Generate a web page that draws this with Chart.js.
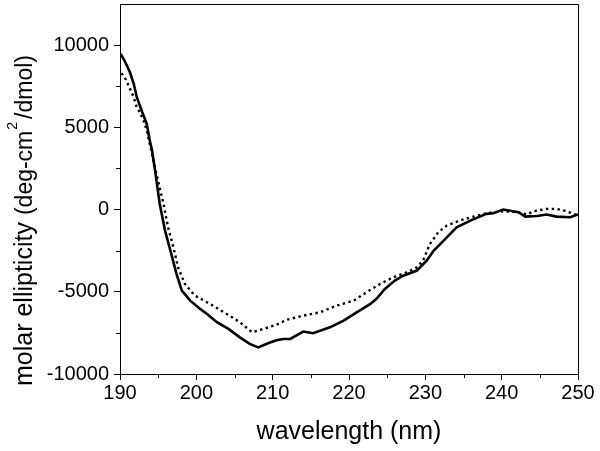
<!DOCTYPE html>
<html>
<head>
<meta charset="utf-8">
<script src="https://cdn.jsdelivr.net/npm/chart.js@4/dist/chart.umd.min.js"></script>
<style>
  html, body { margin: 0; padding: 0; background: #fff; }
  #wrap { width: 600px; height: 451px; }
</style>
</head>
<body>
<div id="wrap"><canvas id="cd" width="600" height="451"></canvas></div>
<script>
'use strict';

// ─── Data ─────────────────────────────────────────────────────────────────────

const solidWl = [
  190.1, 190.7, 191.3, 191.8, 192.2, 193.0, 193.5, 193.9, 194.2, 194.6,
  195.2, 195.9, 196.6, 197.4, 198.1, 199.2, 200.5, 201.4, 202.7, 204.2,
  205.7, 207.0, 208.1, 209.4, 210.5, 211.4, 212.3, 214.0, 215.3, 217.5,
  219.3, 221.0, 222.8, 223.6, 224.7, 226.0, 227.1, 228.9, 230.2, 231.1,
  232.4, 234.1, 235.9, 238.0, 238.9, 240.2, 242.2, 243.1, 244.6, 245.9,
  247.2, 249.0, 250.0,
];
const solidVal = [
  9470, 8960, 8350, 7650, 6830, 5820, 5210, 4200, 3590, 2370,
  350, -1280, -2490, -3910, -4930, -5540, -6040, -6350, -6850, -7260,
  -7770, -8170, -8380, -8130, -7950, -7870, -7870, -7420, -7520, -7160,
  -6750, -6250, -5740, -5430, -4830, -4320, -4020, -3710, -3100, -2490,
  -1890, -1080, -670, -260, -220, 0, -160, -430, -390, -300,
  -430, -470, -300,
];

const dottedWl = [
  190.2, 190.8, 191.4, 191.8, 192.2, 192.6, 193.1, 193.5, 194.0, 194.6,
  195.7, 196.3, 197.0, 197.6, 198.5, 199.8, 201.8, 204.0, 205.7, 207.3,
  208.8, 210.5, 211.8, 214.0, 216.2, 218.4, 220.6, 222.3, 224.1, 225.8,
  227.6, 228.9, 229.7, 230.6, 231.7, 232.8, 234.5, 236.3, 238.0, 240.2,
  242.0, 243.3, 244.2, 245.9, 247.2, 248.5, 249.6, 250.0,
];
const dottedVal = [
  8300, 7890, 7240, 6830, 6220, 5920, 5410, 4810, 3800, 2500,
  350, -1080, -2290, -3510, -4520, -5230, -5740, -6350, -6850, -7460,
  -7260, -7000, -6710, -6450, -6250, -5840, -5540, -5030, -4520, -4120,
  -3810, -3510, -3100, -2090, -1380, -970, -670, -430, -220, -100,
  -160, -300, -100, 40, 40, -100, -300, -350,
];

const xTicks      = [190, 200, 210, 220, 230, 240, 250];
const xMinorTicks = [195, 205, 215, 225, 235, 245];
const yTicks      = [-10000, -5000, 0, 5000, 10000];
const yMinorTicks = [-7500, -2500, 2500, 7500];

const X_TITLE      = 'wavelength (nm)';
const Y_TITLE_MAIN = 'molar ellipticity';
const Y_TITLE_UNIT = ['(deg-cm', '2', '/dmol)'];

const FONT = "'Liberation Sans', Arial, sans-serif";

// ─── Plugins ──────────────────────────────────────────────────────────────────

// closes the box (top + right edges) and adds short minor ticks
const framePlugin = {
  id: 'frame',
  afterDraw(chart) {
    const { ctx, chartArea: a, scales } = chart;
    ctx.save();
    ctx.strokeStyle = '#000';
    ctx.lineWidth = 1;
    ctx.beginPath();
    ctx.moveTo(a.left, a.top + 0.5);
    ctx.lineTo(a.right + 0.5, a.top + 0.5);
    ctx.lineTo(a.right + 0.5, a.bottom);
    ctx.stroke();

    ctx.beginPath();
    xMinorTicks.forEach(v => {
      const px = Math.round(scales.x.getPixelForValue(v)) + 0.5;
      ctx.moveTo(px, a.bottom);
      ctx.lineTo(px, a.bottom + 4);
    });
    yMinorTicks.forEach(v => {
      const py = Math.round(scales.y.getPixelForValue(v)) + 0.5;
      ctx.moveTo(a.left, py);
      ctx.lineTo(a.left - 4, py);
    });
    ctx.stroke();
    ctx.restore();
  },
};

// y title: big words, smaller unit with a superscript
const yTitlePlugin = {
  id: 'yTitle',
  afterDraw(chart) {
    const ctx = chart.ctx;
    ctx.save();
    ctx.translate(32, 386);
    ctx.rotate(-Math.PI / 2);
    ctx.fillStyle = '#000';
    ctx.textBaseline = 'alphabetic';
    ctx.textAlign = 'left';

    ctx.font = `25px ${FONT}`;
    ctx.fillText(Y_TITLE_MAIN, 0, 0);
    let x = ctx.measureText(Y_TITLE_MAIN).width + 7;

    ctx.font = `23px ${FONT}`;
    ctx.fillText(Y_TITLE_UNIT[0], x, 0);
    x += ctx.measureText(Y_TITLE_UNIT[0]).width + 1;

    ctx.font = `14px ${FONT}`;
    ctx.fillText(Y_TITLE_UNIT[1], x, -15);
    x += ctx.measureText(Y_TITLE_UNIT[1]).width + 3;

    ctx.font = `23px ${FONT}`;
    ctx.fillText(Y_TITLE_UNIT[2], x, 0);
    ctx.restore();
  },
};

// ─── Chart ────────────────────────────────────────────────────────────────────

const toPts = (xs, ys) => xs.map((x, i) => ({ x, y: ys[i] }));

new Chart(document.getElementById('cd').getContext('2d'), {
  type: 'line',
  data: {
    datasets: [
      {
        label: 'solid',
        data: toPts(solidWl, solidVal),
        borderColor: '#000',
        borderWidth: 2.6,
        pointRadius: 0,
        tension: 0,
        fill: false,
      },
      {
        label: 'dotted',
        data: toPts(dottedWl, dottedVal),
        borderColor: '#000',
        borderWidth: 2.4,
        borderDash: [2.4, 3.4],
        pointRadius: 0,
        tension: 0,
        fill: false,
      },
    ],
  },
  options: {
    responsive: false,
    animation: false,
    parsing: false,
    layout: { padding: { top: 4, right: 22, left: 0, bottom: 0 } },
    plugins: {
      legend: { display: false },
      tooltip: { enabled: false },
    },
    scales: {
      x: {
        type: 'linear',
        min: 190,
        max: 250,
        afterBuildTicks: s => { s.ticks = xTicks.map(v => ({ value: v })); },
        afterFit: s => { s.height = 77; s.paddingLeft = 0; s.paddingRight = 0; },
        border: { display: true, color: '#000', width: 1 },
        grid: { drawOnChartArea: false, drawTicks: true, tickLength: 6, color: '#000' },
        ticks: {
          color: '#000',
          font: { family: FONT, size: 20 },
          padding: 1,
          maxRotation: 0,
          callback: v => String(v),
        },
        title: {
          display: true,
          text: X_TITLE,
          color: '#000',
          font: { family: FONT, size: 25 },
          padding: { top: 0, bottom: 4 },
        },
      },
      y: {
        type: 'linear',
        min: -10000,
        max: 12500,
        afterBuildTicks: s => { s.ticks = yTicks.map(v => ({ value: v })); },
        afterFit: s => { s.width = 120; s.paddingTop = 0; s.paddingBottom = 0; },
        border: { display: true, color: '#000', width: 1 },
        grid: { drawOnChartArea: false, drawTicks: true, tickLength: 6, color: '#000' },
        ticks: {
          color: '#000',
          font: { family: FONT, size: 20 },
          padding: 5,
          callback: v => String(v),
        },
      },
    },
  },
  plugins: [framePlugin, yTitlePlugin],
});
</script>
</body>
</html>
